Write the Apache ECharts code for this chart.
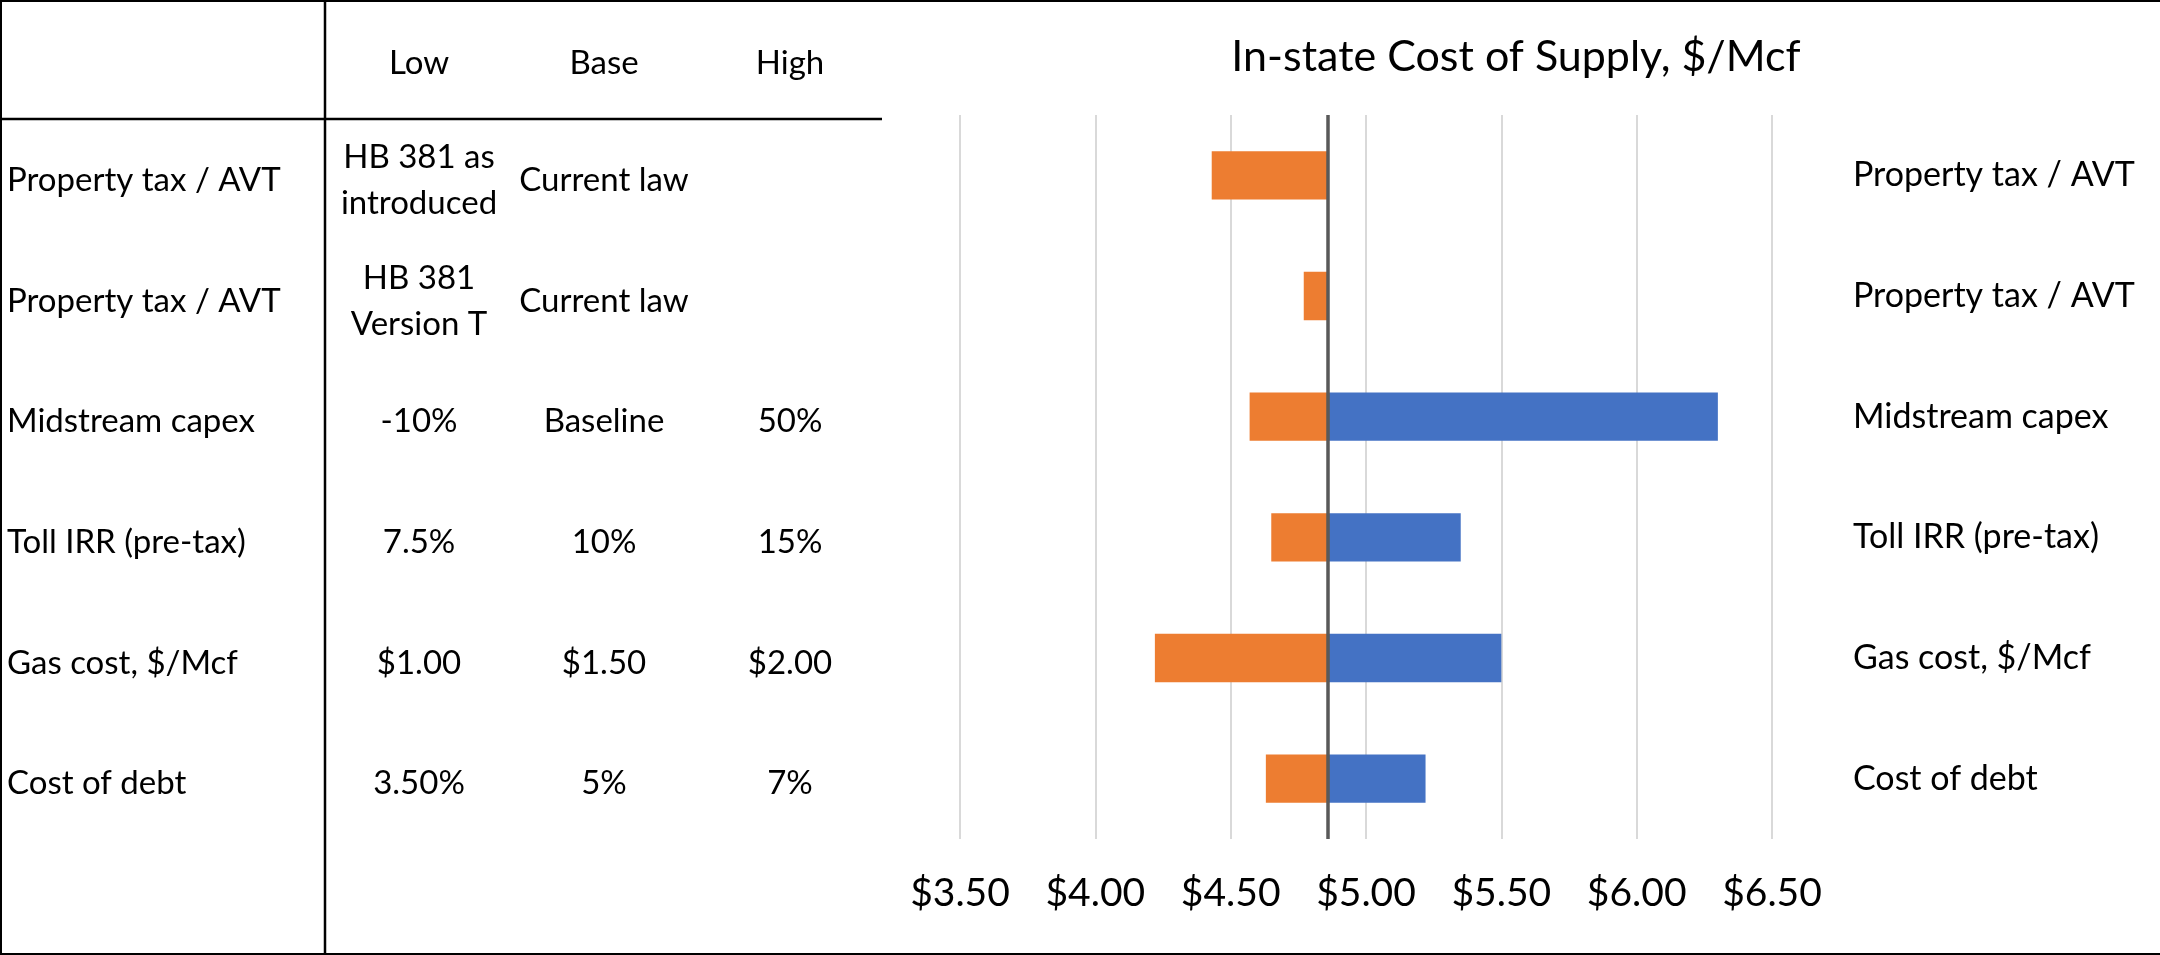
<!DOCTYPE html>
<html>
<head>
<meta charset="utf-8">
<script src="https://cdn.jsdelivr.net/npm/echarts@6/dist/echarts.min.js"></script>
<style>
html,body{margin:0;padding:0;background:#fff;}
#main{width:2160px;height:955px;}
</style>
</head>
<body>
<div id="main"></div>
<script>
// ---- data ----
const categories = ['Property tax / AVT','Property tax / AVT','Midstream capex','Toll IRR (pre-tax)','Gas cost, $/Mcf','Cost of debt'];
const lowValues  = [4.43, 4.77, 4.57, 4.65, 4.22, 4.63];
const highValues = [null, null, 6.30, 5.35, 5.50, 5.22];
const baseValue = 4.86;
const xTicks = [3.5, 4.0, 4.5, 5.0, 5.5, 6.0, 6.5];
const tableHeaders = ['Low','Base','High'];
const tableLow  = ['HB 381 as\nintroduced','HB 381\nVersion T','-10%','7.5%','$1.00','3.50%'];
const tableBase = ['Current law','Current law','Baseline','10%','$1.50','5%'];
const tableHigh = ['','','50%','15%','$2.00','7%'];
const chartTitle = 'In-state Cost of Supply, $/Mcf';

// ---- build ----
const FONT = 'Lato';
const padData = lowValues.map(v => v);
const lowBars = lowValues.map(v => +(baseValue - v).toFixed(4));
const highBars = highValues.map(v => v == null ? '-' : +(v - baseValue).toFixed(4));

const chart = echarts.init(document.getElementById('main'), null, {renderer:'canvas'});
chart.setOption({
  animation:false,
  backgroundColor:'#fff',
  grid:{left:960, right:388, top:115, bottom:116, containLabel:false},
  xAxis:{
    type:'value', min:xTicks[0], max:xTicks[xTicks.length-1], interval:0.5,
    axisLine:{show:false}, axisTick:{show:false},
    splitLine:{show:true, lineStyle:{color:'#d9d9d9', width:2}},
    axisLabel:{formatter:v => '$' + v.toFixed(2), fontFamily:FONT, fontSize:39, color:'#000', margin:35}
  },
  yAxis:{
    type:'category', data:categories, inverse:true, position:'right',
    axisLine:{show:false}, axisTick:{show:false}, splitLine:{show:false},
    axisLabel:{align:'left', margin:81, fontFamily:FONT, fontSize:34, color:'#000'}
  },
  series:[
    {type:'bar', name:'pad', stack:'t', data:padData, itemStyle:{color:'rgba(0,0,0,0)'}, barCategoryGap:'60%', silent:true},
    {type:'bar', name:'Low', stack:'t', data:lowBars, itemStyle:{color:'#ED7D31'}, barCategoryGap:'60%'},
    {type:'bar', name:'High', stack:'t', data:highBars, itemStyle:{color:'#4472C4'}, barCategoryGap:'60%',
      markLine:{silent:true, symbol:'none', label:{show:false}, lineStyle:{color:'#595959', width:3.5, type:'solid'},
        data:[{xAxis:baseValue}], z:10}}
  ]
});

// ---- table via graphic, rows aligned to the chart's category axis ----
const colX = [419, 604, 790];
const elements = [];
const TS = 33;
const txt = (x, y, s, align, size) => ({
  type:'text', x:x, y:y, silent:true,
  style:{text:s, fill:'#000', font: size + 'px ' + FONT, align:align, verticalAlign:'middle', lineHeight:46}
});
const ln = (x1,y1,x2,y2,w) => ({type:'line', silent:true, shape:{x1,y1,x2,y2}, style:{stroke:'#000', lineWidth:w}});
elements.push(ln(0,1,2160,1,2));
elements.push(ln(1,0,1,955,2));
elements.push(ln(0,954,2160,954,2));
elements.push(ln(325,0,325,955,2.5));
elements.push(ln(0,119,882,119,2.5));
tableHeaders.forEach((h,i) => elements.push(txt(colX[i], 63, h, 'center', TS)));
categories.forEach((c,i) => {
  const y = chart.convertToPixel({yAxisIndex:0}, i) + 5;
  elements.push(txt(7, y, c, 'left', TS));
  elements.push(txt(colX[0], y, tableLow[i], 'center', TS));
  elements.push(txt(colX[1], y, tableBase[i], 'center', TS));
  if (tableHigh[i]) elements.push(txt(colX[2], y, tableHigh[i], 'center', TS));
});
elements.push({type:'text', silent:true, x:1516, y:57,
  style:{text:chartTitle, fill:'#000', font:'43px ' + FONT, align:'center', verticalAlign:'middle'}});
chart.setOption({graphic:{elements:elements}});
</script>
</body>
</html>
